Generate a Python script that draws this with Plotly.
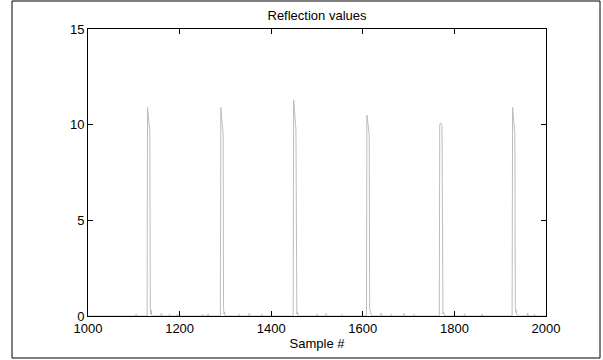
import plotly.graph_objects as go

# ---- data ----
sample_start = 1000
sample_end = 2000
peak_starts = [1130, 1290, 1449, 1609, 1768, 1927]
peak_values = [
    [10.9, 10.4, 10.2, 10.1, 9.9, 9.7],
    [10.9, 10.3, 10.1, 10.0, 9.8, 9.6],
    [11.3, 10.9, 10.2, 10.1, 10.0, 9.8],
    [10.5, 10.3, 10.1, 9.9, 9.7, 9.5],
    [10.0, 10.1, 10.1, 10.0, 10.0, 9.9],
    [10.9, 10.5, 10.1, 9.9, 9.7, 9.5],
]
peak_tails = [
    [0.5, 0.1, 0.3, 0.05],
    [0.4, 0.1, 0.2, 0.05],
    [0.5, 0.1, 0.2, 0.05],
    [0.4, 0.2, 0.3, 0.1],
    [0.3, 0.1, 0.2, 0.05],
    [0.5, 0.2, 0.3, 0.1],
]
blip_samples = [1105, 1160, 1178, 1195, 1250, 1262, 1330, 1352, 1380, 1500, 1520, 1555,
                1640, 1662, 1690, 1712, 1800, 1822, 1860, 1960, 1975]
blip_values = [0.1, 0.15, 0.1, 0.1, 0.1, 0.12, 0.1, 0.15, 0.1, 0.1, 0.12, 0.1,
               0.15, 0.1, 0.12, 0.1, 0.1, 0.12, 0.1, 0.15, 0.1]

x_ticks = [1000, 1200, 1400, 1600, 1800, 2000]
y_ticks = [0, 5, 10, 15]

# ---- assemble series ----
samples = list(range(sample_start, sample_end + 1))
values = [0.0] * len(samples)
for s, v in zip(blip_samples, blip_values):
    values[s - sample_start] = v
for start, pv, tail in zip(peak_starts, peak_values, peak_tails):
    for i, v in enumerate(pv + tail):
        values[start - sample_start + i] = v

fig = go.Figure()
fig.add_trace(go.Scatter(x=samples, y=values, mode="lines",
                         line=dict(color="#bdbdbd", width=1), showlegend=False,
                         hoverinfo="skip"))

font = dict(family="Liberation Sans, Arial, Helvetica, sans-serif", size=13, color="black")

fig.update_layout(
    width=603, height=360,
    margin=dict(l=88, r=57, t=29, b=44, pad=0),
    paper_bgcolor="white", plot_bgcolor="white",
    font=font,
    title=dict(text="Reflection values", x=0.5, xref="paper", xanchor="center",
               y=1 - 20 / 360, yref="container", yanchor="bottom",
               font=dict(size=13, color="black"), pad=dict(t=0, b=0)),
    xaxis=dict(range=[1000, 2000], tickvals=x_ticks, ticktext=[str(t) for t in x_ticks],
               showgrid=False, zeroline=False, showline=True, linecolor="black", linewidth=1,
               mirror="ticks", ticks="inside", ticklen=5, tickcolor="black", tickwidth=1,
               title=dict(text="Sample #", standoff=4, font=dict(size=13)),
               tickfont=dict(size=13)),
    yaxis=dict(range=[0, 15], tickvals=y_ticks, ticktext=[str(t) for t in y_ticks],
               showgrid=False, zeroline=False, showline=True, linecolor="black", linewidth=1,
               mirror="ticks", ticks="inside", ticklen=5, tickcolor="black", tickwidth=1,
               tickfont=dict(size=13)),
    shapes=[dict(type="rect", xref="paper", yref="paper",
                 x0=(12 - 88) / 458, x1=(600 - 88) / 458,
                 y0=(316 - 358) / 287, y1=(316 - 1) / 287,
                 line=dict(color="black", width=1), fillcolor="rgba(0,0,0,0)",
                 layer="below")],
)

fig.write_html("out.html")
